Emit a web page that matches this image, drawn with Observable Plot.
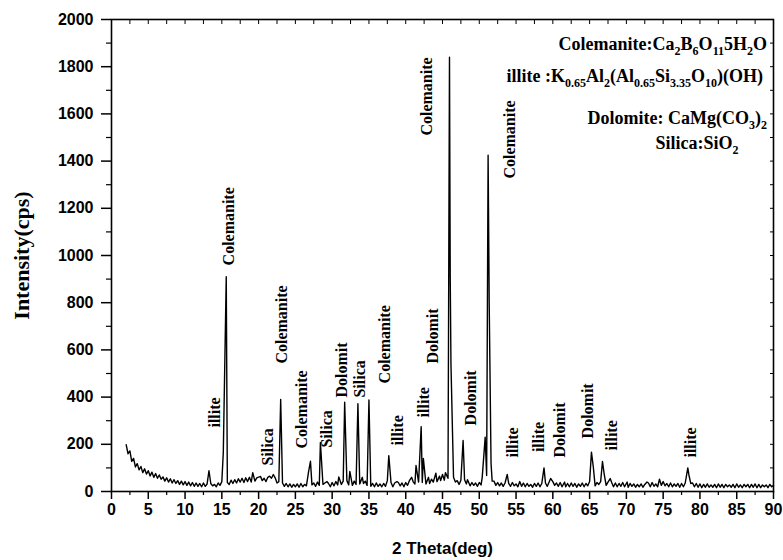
<!DOCTYPE html>
<html>
<head>
<meta charset="utf-8">
<script src="https://cdn.jsdelivr.net/npm/d3@7"></script>
<script src="https://cdn.jsdelivr.net/npm/@observablehq/plot@0.6"></script>
<style>
  body { margin: 0; background: #fff; }
  #chart svg { display: block; }
</style>
</head>
<body>
<div id="chart"></div>
<script>
// XRD scan: background counts sampled every 0.25° from 2θ = 2°
const scanStart = 2;
const scanStep = 0.25;
const backgroundCounts = [
  198,160,172,128,140,104,118,92,106,80,96,74,88,66,82,60,76,56,70,52,
  62,44,58,40,54,36,50,34,46,30,44,28,42,26,40,24,38,22,36,22,
  34,20,36,22,32,18,34,24,30,20,36,26,42,30,34,38,30,48,34,50,
  36,54,40,56,38,58,42,60,40,62,44,58,40,64,46,56,42,60,40,56,
  44,58,36,42,26,36,22,34,20,32,18,30,20,32,18,34,20,30,24,38,
  44,28,36,22,40,26,44,30,36,22,34,20,38,24,42,28,40,30,44,32,
  46,28,40,26,44,30,48,32,50,34,44,26,36,22,34,20,36,22,32,20,
  34,22,46,30,38,20,36,22,38,24,36,20,38,26,46,30,42,32,54,40,
  56,38,50,32,48,34,52,40,56,42,60,46,58,48,68,56,74,80,60,40,
  46,30,48,38,50,32,40,24,38,26,36,22,38,28,48,38,68,90,60,44,
  44,26,38,24,36,22,36,20,34,22,38,24,32,20,34,22,36,20,34,22,
  30,18,34,22,36,20,34,24,36,22,40,28,42,26,36,22,38,20,34,20,
  34,20,36,22,34,18,32,22,36,20,34,24,42,28,40,24,38,30,42,28,
  42,26,40,24,38,20,36,20,34,22,38,20,32,18,34,22,32,18,30,20,
  32,18,30,22,36,20,38,22,32,20,40,26,42,24,34,20,36,20,32,22,
  34,18,34,20,36,28,46,34,36,20,34,18,32,16,30,18,32,18,28,18,
  30,16,32,18,30,16,30,20,28,18,30,16,32,18,28,16,30,20,30,16,
  30,18,32,16,30,16,28,20,28,16,30,20,26
];

// Diffraction peaks: position (2θ, deg) and intensity (cps)
const peakTheta = [
  13.25, 15.2, 15.6, 19.2, 20.1, 21.5, 22.0, 23.0, 26.8, 27.05, 28.4, 29.3,
  30.9, 31.7, 32.4, 33.5, 34.1, 35.0, 37.7, 38.8, 40.8, 41.4, 42.1, 42.4,
  43.1, 44.1, 44.6, 45.0, 45.4, 45.95, 46.05, 46.15, 47.8, 48.4, 50.4, 50.8,
  51.2, 51.35, 51.6, 53.8, 55.5, 58.8, 59.7, 61.6, 65.25, 65.5, 66.75, 67.0,
  67.8, 70.1, 72.8, 74.5, 78.35, 78.5
];
const peakCounts = [
  88, 165, 910, 80, 62, 65, 72, 390, 85, 128, 208, 42,
  62, 378, 85, 372, 60, 388, 152, 42, 60, 110, 275, 140,
  60, 78, 65, 72, 80, 1840, 910, 540, 216, 50, 60, 230,
  1425, 795, 120, 72, 42, 100, 55, 40, 167, 105, 127, 70,
  55, 40, 40, 52, 100, 70
];

// Phase labels above the peaks
const labelText = [
  "illite", "Colemanite", "Silica", "Colemanite", "Colemanite", "Silica",
  "Dolomit", "Silica", "Colemanite", "illite", "illite", "Colemanite",
  "Dolomit", "Dolomit", "Colemanite", "illite", "illite", "Dolomit",
  "Dolomit", "illite", "illite"
];
const labelTheta = [
  14.1, 15.95, 21.2, 23.2, 25.9, 29.3,
  31.35, 33.7, 37.1, 38.95, 42.4, 42.9,
  43.7, 48.9, 54.1, 54.5, 58.05, 60.9,
  64.8, 68.05, 78.8
];
const labelBase = [
  271, 958, 110, 542, 182, 186,
  398, 398, 458, 195, 314, 1508,
  542, 280, 1326, 144, 167, 144,
  225, 174, 144
];

// Phase formulas; each piece is [text, isSubscript]
const formulaLines = [
  [["Colemanite:Ca", 0], ["2", 1], ["B", 0], ["6", 1], ["O", 0], ["11", 1], ["5H", 0], ["2", 1], ["O", 0]],
  [["illite :K", 0], ["0.65", 1], ["Al", 0], ["2", 1], ["(Al", 0], ["0.65", 1], ["Si", 0], ["3.35", 1], ["O", 0], ["10", 1], [")(OH)", 0]],
  [["Dolomite: CaMg(CO", 0], ["3", 1], [")", 0], ["2", 1]],
  [["Silica:SiO", 0], ["2", 1]]
];

// Axis ticks
const xMajorTicks = d3.range(0, 91, 5);
const xMinorTicks = d3.range(2.5, 90, 5);
const yMajorTicks = d3.range(0, 2001, 200);
const yMinorTicks = d3.range(100, 2000, 200);

// Merge background and peak maxima into one scan, sorted by angle
const peaks = peakTheta.map((t, i) => ({theta: t, counts: peakCounts[i]}));
const scan = backgroundCounts
  .map((c, i) => ({theta: scanStart + i * scanStep, counts: c}))
  .filter(d => !peakTheta.some(t => Math.abs(t - d.theta) < 0.12))
  .concat(peaks)
  .sort((a, b) => a.theta - b.theta);

const labels = labelText.map((s, i) => ({name: s, theta: labelTheta[i], base: labelBase[i]}));

const tickFont = {fontFamily: "Liberation Sans", fontWeight: "bold", fontSize: 16};
const serif = "Liberation Serif";
const plain = d => String(d);
const blank = () => "";

const chart = Plot.plot({
  width: 783,
  height: 560,
  marginTop: 19,
  marginRight: 10,
  marginBottom: 69,
  marginLeft: 111,
  x: {domain: [0, 90]},
  y: {domain: [0, 2000]},
  style: {background: "white", color: "black", overflow: "visible"},
  marks: [
    Plot.line(scan, {x: "theta", y: "counts", stroke: "black", strokeWidth: 1.4}),
    Plot.text(labels, {
      x: "theta", y: "base", text: "name", rotate: -90, textAnchor: "start",
      fontFamily: serif, fontWeight: "bold", fontSize: 16, fill: "black"
    }),
    Plot.frame({stroke: "black", strokeWidth: 1.6}),
    // bottom and left axes: outward ticks with labels
    Plot.axisX({ticks: xMajorTicks, tickSize: 8, tickPadding: 4, tickFormat: plain, strokeWidth: 1.5, label: null, ...tickFont}),
    Plot.axisX({ticks: xMinorTicks, tickSize: 4, tickFormat: blank, label: null, strokeWidth: 1.2}),
    Plot.axisY({ticks: yMajorTicks, tickSize: 10, tickPadding: 8, tickFormat: plain, strokeWidth: 1.5, label: null, ...tickFont}),
    Plot.axisY({ticks: yMinorTicks, tickSize: 5, tickFormat: blank, label: null, strokeWidth: 1.2}),
    // top and right axes: inward ticks
    Plot.axisX({anchor: "top", ticks: xMajorTicks.concat(xMinorTicks), tickSize: -4, tickFormat: blank, label: null}),
    Plot.axisY({anchor: "right", ticks: yMajorTicks.concat(yMinorTicks), tickSize: -4, tickFormat: blank, label: null}),
    // axis titles
    Plot.text(["2 Theta(deg)"], {
      frameAnchor: "bottom", dy: 57, lineAnchor: "middle", textAnchor: "middle",
      fontFamily: "Liberation Sans", fontWeight: "bold", fontSize: 17, fill: "black"
    }),
    Plot.text(["Intensity(cps)"], {
      frameAnchor: "left", dx: -90, rotate: -90, textAnchor: "middle", lineAnchor: "middle",
      fontFamily: serif, fontWeight: "bold", fontSize: 22, fill: "black"
    })
  ]
});

// Formula block with subscripts, inside the plot frame at upper right
const svg = d3.select(chart);
const formulaLayout = [
  {anchor: "end", x: 767, y: 50},
  {anchor: "end", x: 763, y: 82},
  {anchor: "end", x: 767, y: 124},
  {anchor: "middle", x: 697, y: 149}
];
const block = svg.append("g")
  .attr("font-family", serif)
  .attr("font-weight", "bold")
  .attr("font-size", 18)
  .attr("fill", "black");
formulaLines.forEach((pieces, i) => {
  const pos = formulaLayout[i];
  const t = block.append("text")
    .attr("x", pos.x)
    .attr("y", pos.y)
    .attr("text-anchor", pos.anchor);
  let shifted = false;
  pieces.forEach(([s, sub]) => {
    const span = t.append("tspan").text(s);
    if (sub && !shifted) { span.attr("dy", 5); shifted = true; }
    else if (!sub && shifted) { span.attr("dy", -5); shifted = false; }
    if (sub) span.attr("font-size", 12);
  });
});

document.getElementById("chart").append(chart);
</script>
</body>
</html>
